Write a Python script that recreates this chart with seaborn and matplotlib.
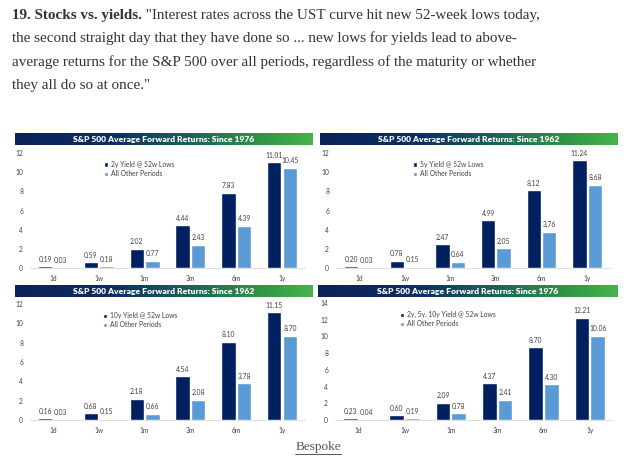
import numpy as np
import pandas as pd
import matplotlib
matplotlib.use("Agg")
import matplotlib.pyplot as plt
import seaborn as sns
from matplotlib.colors import LinearSegmentedColormap
from matplotlib.patches import Patch
from matplotlib.lines import Line2D

# ---------------- data ----------------
periods = ["1d", "1w", "1m", "3m", "6m", "1y"]

tl_title = "S&P 500 Average Forward Returns: Since 1976"
tl_series = "2y Yield @ 52w Lows"
tl_lows = [0.19, 0.59, 2.02, 4.44, 7.83, 11.01]
tl_other = [0.03, 0.18, 0.77, 2.43, 4.39, 10.45]

tr_title = "S&P 500 Average Forward Returns: Since 1962"
tr_series = "5y Yield @ 52w Lows"
tr_lows = [0.20, 0.78, 2.47, 4.99, 8.12, 11.24]
tr_other = [0.03, 0.15, 0.64, 2.05, 3.76, 8.68]

bl_title = "S&P 500 Average Forward Returns: Since 1962"
bl_series = "10y Yield @ 52w Lows"
bl_lows = [0.16, 0.68, 2.18, 4.54, 8.10, 11.15]
bl_other = [0.03, 0.15, 0.66, 2.08, 3.78, 8.70]

br_title = "S&P 500 Average Forward Returns: Since 1976"
br_series = "2y, 5y, 10y Yield @ 52w Lows"
br_lows = [0.23, 0.60, 2.09, 4.37, 8.70, 12.21]
br_other = [0.04, 0.19, 0.78, 2.41, 4.30, 10.06]

other_label = "All Other Periods"

header_bold = "19. Stocks vs. yields."
header_lines = [
    " \"Interest rates across the UST curve hit new 52-week lows today,",
    "the second straight day that they have done so ... new lows for yields lead to above-",
    "average returns for the S&P 500 over all periods, regardless of the maturity or whether",
    "they all do so at once.\"",
]
source = "Bespoke"

# ---------------- style ----------------
sns.set_theme(style="white")
plt.rcParams["font.family"] = ["Lato", "DejaVu Sans"]

NAVY = "#002060"
LIGHT = "#5B9BD5"
TXT = "#404040"

W, H = 640, 461
fig = plt.figure(figsize=(W / 100, H / 100), dpi=100)
fig.patch.set_facecolor("white")

def fx(px):
    return px / W

def fy(py):
    return 1 - py / H

banner_cmap = LinearSegmentedColormap.from_list(
    "banner",
    [(0, "#0b2258"), (0.35, "#0e3060"), (0.6, "#1c6656"), (0.82, "#2f9447"), (1, "#48b24b")],
)

def panel(x0, x1, ytop, ybot, bx0, bx1, by0, by1, title, series, lows, other, ymax, leg_xy):
    # banner
    bax = fig.add_axes([fx(bx0), fy(by1), fx(bx1 - bx0), (by1 - by0) / H])
    bax.imshow(np.linspace(0, 1, 256)[None, :], aspect="auto", cmap=banner_cmap,
               extent=[0, 1, 0, 1])
    bax.set_axis_off()
    bax.text(0.5, 0.45, title, color="white", fontsize=6.1, fontweight="heavy",
             ha="center", va="center", transform=bax.transAxes)

    ax = fig.add_axes([fx(x0), fy(ybot), fx(x1 - x0), (ybot - ytop) / H])
    df = pd.DataFrame({
        "period": periods * 2,
        "value": list(lows) + list(other),
        "series": [series] * len(periods) + [other_label] * len(periods),
    })
    sns.barplot(data=df, x="period", y="value", hue="series", order=periods,
                hue_order=[series, other_label], palette=[NAVY, LIGHT],
                width=0.68, gap=0.08, ax=ax, legend=False, errorbar=None,
                saturation=1)
    for cont in ax.containers:
        ax.bar_label(cont, fmt="%.2f", padding=2.5, fontsize=4.9, color=TXT)
    ax.set_xlim(-0.5, len(periods) - 0.5)
    ax.set_ylim(0, ymax)
    ax.set_yticks(np.arange(0, ymax + 1, 2))
    ax.set_xlabel("")
    ax.set_ylabel("")
    for s in ["top", "right", "left"]:
        ax.spines[s].set_visible(False)
    ax.spines["bottom"].set_color("#d9d9d9")
    ax.spines["bottom"].set_linewidth(0.6)
    ax.tick_params(axis="both", labelsize=4.8, labelcolor=TXT, length=0)
    ax.tick_params(axis="x", pad=5)
    ax.tick_params(axis="y", pad=5)
    ax.set_xticks(np.arange(-0.5, len(periods), 1.0), minor=True)
    ax.tick_params(axis="x", which="minor", length=2, color="#d9d9d9", width=0.6)
    ax.set_facecolor("white")
    handles = [Patch(facecolor=NAVY), Patch(facecolor=LIGHT)]
    ax.legend(handles, [series, other_label], loc="upper left",
              bbox_to_anchor=leg_xy, frameon=False, fontsize=4.9,
              handlelength=0.6, handleheight=0.6, handletextpad=0.4,
              labelspacing=0.3, borderaxespad=0, borderpad=0,
              labelcolor=TXT)
    return ax

panel(30, 305, 153, 268, 15, 313, 133, 145, tl_title, tl_series, tl_lows, tl_other, 12, (0.27, 0.93))
panel(336, 610, 153, 268, 320, 618, 133, 145, tr_title, tr_series, tr_lows, tr_other, 12, (0.28, 0.93))
panel(30, 305, 304, 420, 15, 313, 285, 297, bl_title, bl_series, bl_lows, bl_other, 12, (0.265, 0.93))
panel(335, 613, 303, 420, 318, 618, 285, 297, br_title, br_series, br_lows, br_other, 14, (0.235, 0.93))

# ---------------- header text ----------------
serif = ["Liberation Serif", "DejaVu Serif"]
HCOL = "#333333"
hsize = 10.9
line_y = [15, 38.5, 62, 86]
fig.canvas.draw()
renderer = fig.canvas.get_renderer()
tb = fig.text(fx(12), fy(line_y[0]), header_bold, fontsize=hsize, fontweight="bold",
              family=serif, color=HCOL, ha="left", va="center")
bb = tb.get_window_extent(renderer=renderer)
fig.text(bb.x1 / fig.bbox.width, fy(line_y[0]), header_lines[0], fontsize=hsize,
         family=serif, color=HCOL, ha="left", va="center")
for i in range(1, 4):
    fig.text(fx(12), fy(line_y[i]), header_lines[i], fontsize=hsize, family=serif,
             color=HCOL, ha="left", va="center")

# ---------------- source ----------------
st = fig.text(fx(318), fy(447), source, fontsize=9.5, family=serif, color="#555555",
              ha="center", va="center")
sb = st.get_window_extent(renderer=renderer)
yline = fy(453.5)
fig.add_artist(Line2D([sb.x0 / W, sb.x1 / W], [yline, yline], color="#555555",
                      linewidth=0.7, transform=fig.transFigure))

fig.savefig("out.png", dpi=100, facecolor="white")
